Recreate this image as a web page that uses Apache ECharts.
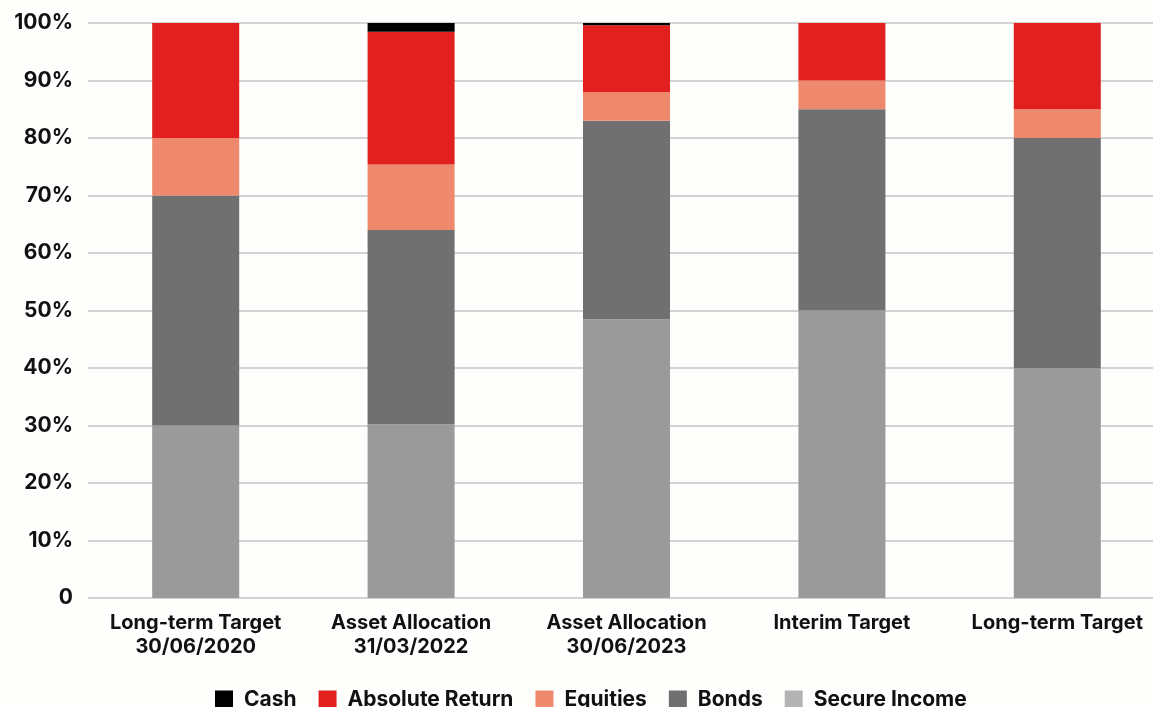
<!DOCTYPE html>
<html>
<head>
<meta charset="utf-8">
<script src="https://cdn.jsdelivr.net/npm/echarts@6/dist/echarts.min.js"></script>
<style>
html,body{margin:0;padding:0;background:#fefefd;}
#c{width:1153px;height:707px;}
</style>
</head>
<body>
<div id="c"></div>
<script>
var categories = ['Long-term Target\n30/06/2020', 'Asset Allocation\n31/03/2022', 'Asset Allocation\n30/06/2023', 'Interim Target', 'Long-term Target'];
var secureIncome = [30, 30.2, 48.5, 50, 40];
var bonds = [40, 33.8, 34.5, 35, 40];
var equities = [10, 11.4, 5, 5, 5];
var absoluteReturn = [20, 23.1, 11.6, 10, 15];
var cash = [0, 1.5, 0.4, 0, 0];
var yTicks = [0, 10, 20, 30, 40, 50, 60, 70, 80, 90, 100];
var legendOrder = ['Cash', 'Absolute Return', 'Equities', 'Bonds', 'Secure Income'];

var font = 'Inter, Roboto, sans-serif';
var chart = echarts.init(document.getElementById('c'), null, {renderer: 'canvas'});
function s(name, data, color) {
  return {name: name, type: 'bar', stack: 'a', data: data, barWidth: '40.4%',
    itemStyle: {color: color}, emphasis: {disabled: true}};
}
var legendData = legendOrder.map(function (n) {
  return n === 'Secure Income' ? {name: n, itemStyle: {color: '#b3b3b3'}} : {name: n};
});
chart.setOption({
  backgroundColor: '#fefefd',
  animation: false,
  grid: {left: 88, width: 1077, top: 23, bottom: 109, containLabel: false, outerBoundsMode: 'none'},
  legend: {
    data: legendData, left: 210, top: 684, itemWidth: 18, itemHeight: 18, itemGap: 22,
    icon: 'rect',
    textStyle: {fontFamily: font, fontWeight: 700, fontSize: 21, color: '#111', padding: [0, 0, 0, 6]}
  },
  xAxis: {
    type: 'category', data: categories,
    axisLine: {show: false}, axisTick: {show: false},
    axisLabel: {fontFamily: font, fontWeight: 700, fontSize: 20, color: '#111', margin: 13, lineHeight: 24, interval: 0}
  },
  yAxis: {
    type: 'value', min: 0, max: 100, interval: 10,
    axisLine: {show: false}, axisTick: {show: false},
    splitLine: {lineStyle: {color: '#d3d3d3', width: 2}},
    axisLabel: {fontFamily: font, fontWeight: 700, fontSize: 21, color: '#111', margin: 15,
      formatter: function (v) { return v === 0 ? '0' : v + '%'; }}
  },
  series: [
    s('Secure Income', secureIncome, '#9a9a9a'),
    s('Bonds', bonds, '#707070'),
    s('Equities', equities, '#ef896e'),
    s('Absolute Return', absoluteReturn, '#e1201f'),
    s('Cash', cash, '#000000')
  ]
});
</script>
</body>
</html>
